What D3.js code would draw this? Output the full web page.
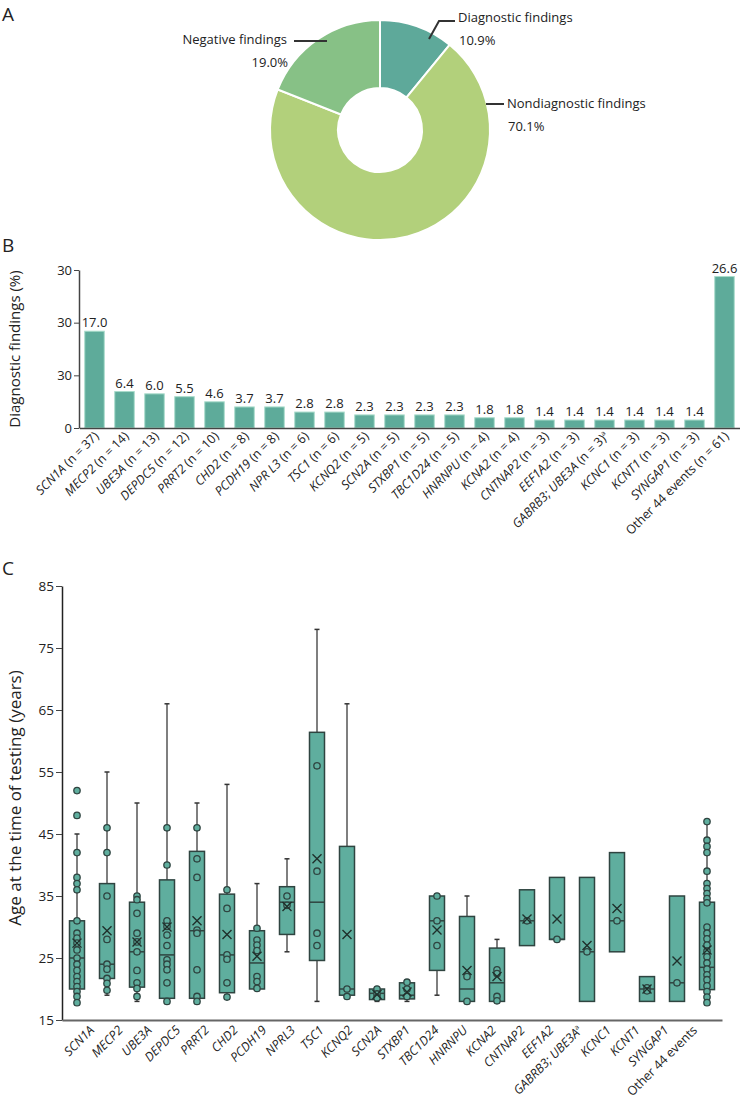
<!DOCTYPE html>
<html><head><meta charset="utf-8">
<script src="https://cdn.jsdelivr.net/npm/d3@7"></script>
<style>body{margin:0;background:#fff;} svg{display:block;font-family:"Open Sans",sans-serif;}</style>
</head><body><svg id="c" width="740" height="1106"></svg>
<script>
// ---------- DATA ----------
const pieLabels = ["Diagnostic findings", "Nondiagnostic findings", "Negative findings"];
const pieValues = [10.9, 70.1, 19.0];
const pieText = ["10.9%", "70.1%", "19.0%"];

const barGenes = ["SCN1A","MECP2","UBE3A","DEPDC5","PRRT2","CHD2","PCDH19","NPR L3","TSC1","KCNQ2","SCN2A","STXBP1","TBC1D24","HNRNPU","KCNA2","CNTNAP2","EEF1A2","GABRB3; UBE3A","KCNC1","KCNT1","SYNGAP1","Other 44 events"];
const barN = [37,14,13,12,10,8,8,6,6,5,5,5,5,4,4,3,3,3,3,3,3,61];
const barValues = [17.0,6.4,6.0,5.5,4.6,3.7,3.7,2.8,2.8,2.3,2.3,2.3,2.3,1.8,1.8,1.4,1.4,1.4,1.4,1.4,1.4,26.6];
const barTickValues = [0, 9.25, 18.5, 27.75];
const barTickLabels = ["0", "30", "30", "30"];

const boxGenes = ["SCN1A","MECP2","UBE3A","DEPDC5","PRRT2","CHD2","PCDH19","NPRL3","TSC1","KCNQ2","SCN2A","STXBP1","TBC1D24","HNRNPU","KCNA2","CNTNAP2","EEF1A2","GABRB3; UBE3A","KCNC1","KCNT1","SYNGAP1","Other 44 events"];
const boxMin    = [18, 19, 18, 18, 18, 19, 20, 26, 18, 19, 18, 18, 19, 18, 18, 27, 28, 18, 26, 18, 18, 18];
const boxQ1     = [20, 21.7, 20.3, 18.5, 18.5, 19.4, 20, 28.8, 24.6, 19, 18.3, 18.4, 23, 18, 18, 27, 28, 18, 26, 18, 18, 19.9];
const boxMedian = [25, 24, 26, 25.5, 29.4, 25.5, 24.2, 34, 34, 20, 19.3, 19, 31, 20, 21, 31, 28, 26, 31, 20, 21, 23.5];
const boxQ3     = [31, 37, 34, 37.6, 42.2, 35.3, 29.4, 36.5, 61.4, 43, 20, 21, 35, 31.7, 26.6, 36, 38, 38, 42, 22, 35, 34];
const boxMax    = [45, 55, 50, 66, 50, 53, 37, 41, 78, 66, 20, 21, 35, 35, 28, 36, 38, 38, 42, 22, 35, 47];
const boxMean   = [27.4, 29.4, 27.6, 30, 31, 28.8, 25.3, 33.3, 41, 28.8, 19.1, 19.5, 29.5, 23, 22, 31.3, 31.3, 27, 33, 20, 24.5, 26.3];
const boxPoints = [
  [52,48,42,38,37,36,31,29,28.2,27.4,26.3,25,24,23,22,21.2,20.4,19.6,18.8,17.8],
  [46,42,35,28,24,23.2,21.7,20.9,19.8],
  [35,34.4,32.2,29,27.6,26,23,21,20.1,18.8],
  [46,40,31,30.1,28.7,27,24.7,24,23.1,21,18],
  [46,41,38,29.5,29,23.1,18.8,18],
  [36,33,25.5,24.8,21,18.7],
  [29.8,27.9,27.1,26.2,22,21.2,20.1],
  [35,33.5],
  [56,39,29,27],
  [20,18.8],
  [20,19.2,18.6],
  [21.1,20,18.8],
  [35,31,27],
  [22,18],
  [23.1,22.5,18.8,18.1],
  [31],
  [28],
  [26],
  [31],
  [20.2,19.7],
  [21],
  [47,44,43,42,39,37,36.2,35.4,34.6,33.9,30,29,28.1,27.1,26.1,25.2,24.2,23.2,22.3,21.5,20.5,19.6,18.7,17.8]
];
const ageTicks = [15, 25, 35, 45, 55, 65, 75, 85];

// ---------- STYLE ----------
const TXT = "#222";
const svg = d3.select("#c");

function letter(t, x, y) {
  svg.append("text").attr("x", x).attr("y", y).attr("font-size", 19).attr("fill", TXT).text(t);
}

// ---------- PANEL A ----------
letter("A", 2, 21);
const cx = 380, cy = 130;
const pieColors = ["#5ea99a", "#b2d07b", "#87c186"];
const pie = d3.pie().sort(null).value(d => d)(pieValues);
const arc = d3.arc().innerRadius(42).outerRadius(110);
const gA = svg.append("g").attr("transform", `translate(${cx},${cy})`);
gA.selectAll("path").data(pie).join("path")
  .attr("d", arc).attr("fill", (d, i) => pieColors[i])
  .attr("stroke", "#fff").attr("stroke-width", 2);

// leaders & labels (offsets relative to centre)
const leaders = [
  [[49, -91], [59, -109], [75, -109]],
  [[106, -26], [124, -26]],
  [[-53, -89], [-86, -89]]
];
gA.selectAll("path.leader").data(leaders).join("path").attr("class", "leader")
  .attr("d", d => d3.line()(d)).attr("fill", "none").attr("stroke", "#333").attr("stroke-width", 2);
const labPos = [
  {x: 78, y: -108, a: "start"},
  {x: 127, y: -22, a: "start"},
  {x: -93, y: -86, a: "end"}
];
labPos.forEach((p, i) => {
  gA.append("text").attr("x", p.x).attr("y", p.y).attr("text-anchor", p.a)
    .attr("font-size", 13).attr("fill", TXT).text(pieLabels[i]);
  gA.append("text").attr("x", p.x + 1).attr("y", p.y + 23).attr("text-anchor", p.a)
    .attr("font-size", 13).attr("fill", TXT).text(pieText[i]);
});

// ---------- PANEL B ----------
letter("B", 2, 252);
const xB = d3.scaleBand().domain(barGenes).range([79.5, 739.5]).paddingInner(0.35).paddingOuter(0.175);
const yB = d3.scaleLinear().domain([0, 27.75]).range([428, 270]);
const gB = svg.append("g");
gB.selectAll("rect").data(barValues).join("rect")
  .attr("x", (d, i) => xB(barGenes[i])).attr("width", xB.bandwidth())
  .attr("y", d => yB(d)).attr("height", d => yB(0) - yB(d))
  .attr("fill", "#5eab9a").attr("stroke", "#a9dccb").attr("stroke-width", 1);
gB.selectAll("text.val").data(barValues).join("text").attr("class", "val")
  .attr("x", (d, i) => xB(barGenes[i]) + xB.bandwidth() / 2).attr("y", d => yB(d) - 4)
  .attr("text-anchor", "middle").attr("font-size", 13).attr("fill", TXT).text(d => d.toFixed(1));

const axBy = gB.append("g").attr("transform", "translate(79,0)")
  .call(d3.axisLeft(yB).tickValues(barTickValues).tickFormat((d, i) => barTickLabels[i]).tickSize(5).tickSizeOuter(0));
axBy.select(".domain").attr("stroke", "#444").attr("stroke-width", 1.5);
axBy.selectAll(".tick line").attr("stroke", "#444");
axBy.selectAll(".tick text").attr("font-size", 13).attr("fill", TXT).attr("font-family", "Open Sans").attr("x", -7);
const axBx = gB.append("g").attr("transform", "translate(0,428)")
  .call(d3.axisBottom(xB).tickSize(0).tickFormat("").tickSizeOuter(0));
axBx.select(".domain").attr("stroke", "#444").attr("stroke-width", 1.5);

gB.selectAll("text.xl").data(barGenes).join("text").attr("class", "xl")
  .attr("transform", (d) => `translate(${xB(d) + xB.bandwidth() / 2 + 5},437) rotate(-45)`)
  .attr("text-anchor", "end").attr("font-size", 12.5).attr("fill", TXT)
  .each(function(d, i) {
    const t = d3.select(this);
    const other = d.startsWith("Other");
    t.append("tspan").attr("font-style", other ? "normal" : "italic").text(d);
    t.append("tspan").text(` (n = ${barN[i]})`);
    if (d.includes(";")) t.append("tspan").attr("font-size", 7).attr("dy", -5).text("a");
  });

svg.append("text").attr("transform", "translate(20,349) rotate(-90)").attr("text-anchor", "middle")
  .attr("font-size", 15).attr("fill", TXT).text("Diagnostic findings (%)");

// ---------- PANEL C ----------
letter("C", 2, 575);
const xC = d3.scaleBand().domain(boxGenes).range([62, 722]).paddingInner(0.5).paddingOuter(0.25);
const xCl = d3.scalePoint().domain(boxGenes).range([95, 698]);
const yC = d3.scaleLinear().domain([15, 85]).range([1020, 586]);
const gC = svg.append("g");
const FILL = "#5fae9e", STK = "#2f4440";
const bw = xC.bandwidth();

boxGenes.forEach((g, i) => {
  const c = xC(g) + bw / 2;
  const grp = gC.append("g");
  const wh = [[boxQ3[i], boxMax[i]], [boxQ1[i], boxMin[i]]];
  wh.forEach(([a, b]) => {
    if (Math.abs(a - b) < 0.01) return;
    grp.append("line").attr("x1", c).attr("x2", c).attr("y1", yC(a)).attr("y2", yC(b))
      .attr("stroke", "#555").attr("stroke-width", 1.5);
    grp.append("line").attr("x1", c - 2.5).attr("x2", c + 2.5).attr("y1", yC(b)).attr("y2", yC(b))
      .attr("stroke", "#333").attr("stroke-width", 1.5);
  });
  grp.append("rect").attr("x", xC(g)).attr("width", bw)
    .attr("y", yC(boxQ3[i])).attr("height", yC(boxQ1[i]) - yC(boxQ3[i]))
    .attr("fill", FILL).attr("stroke", STK).attr("stroke-width", 1.5);
  grp.append("line").attr("x1", xC(g)).attr("x2", xC(g) + bw).attr("y1", yC(boxMedian[i])).attr("y2", yC(boxMedian[i]))
    .attr("stroke", STK).attr("stroke-width", 1.5);
  grp.selectAll("circle").data(boxPoints[i]).join("circle")
    .attr("cx", c).attr("cy", d => yC(d)).attr("r", 3.2)
    .attr("fill", FILL).attr("stroke", STK).attr("stroke-width", 1.3);
  const m = yC(boxMean[i]), s = 4.5;
  grp.append("path").attr("d", `M${c - s},${m - s}L${c + s},${m + s}M${c - s},${m + s}L${c + s},${m - s}`)
    .attr("stroke", "#1f2f2b").attr("stroke-width", 1.4).attr("fill", "none");
});

const axCy = gC.append("g").attr("transform", "translate(62,0)")
  .call(d3.axisLeft(yC).tickValues(ageTicks).tickSize(6).tickSizeOuter(0));
axCy.select(".domain").attr("stroke", "#222").attr("stroke-width", 1.5);
axCy.selectAll(".tick line").attr("stroke", "#444");
axCy.selectAll(".tick text").attr("font-size", 13.5).attr("fill", TXT).attr("font-family", "Open Sans").attr("x", -8);
const axCx = gC.append("g").attr("transform", "translate(0,1020)")
  .call(d3.axisBottom(xC).tickSize(0).tickFormat("").tickSizeOuter(0));
axCx.select(".domain").attr("stroke", "#666").attr("stroke-width", 2);

gC.selectAll("text.xl").data(boxGenes).join("text").attr("class", "xl")
  .attr("transform", d => `translate(${xCl(d)},1031) rotate(-45)`)
  .attr("text-anchor", "end").attr("font-size", 12.5).attr("fill", TXT)
  .each(function(d) {
    const t = d3.select(this);
    t.append("tspan").attr("font-style", d.startsWith("Other") ? "normal" : "italic").text(d);
    if (d.includes(";")) t.append("tspan").attr("font-size", 7).attr("dy", -5).text("a");
  });

svg.append("text").attr("transform", "translate(21,798) rotate(-90)").attr("text-anchor", "middle")
  .attr("font-size", 17).attr("fill", TXT).text("Age at the time of testing (years)");
</script></body></html>
